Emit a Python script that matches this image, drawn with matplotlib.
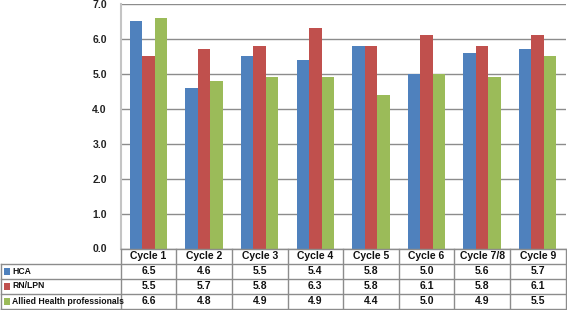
import matplotlib
matplotlib.use("Agg")
import matplotlib.pyplot as plt
import matplotlib.transforms as mtransforms
from matplotlib.lines import Line2D
from matplotlib.patches import Rectangle
import numpy as np

categories = ["Cycle 1", "Cycle 2", "Cycle 3", "Cycle 4", "Cycle 5", "Cycle 6", "Cycle 7/8", "Cycle 9"]
series_names = ["HCA", "RN/LPN", "Allied Health professionals"]
hca = [6.5, 4.6, 5.5, 5.4, 5.8, 5.0, 5.6, 5.7]
rn_lpn = [5.5, 5.7, 5.8, 6.3, 5.8, 6.1, 5.8, 6.1]
allied = [6.6, 4.8, 4.9, 4.9, 4.4, 5.0, 4.9, 5.5]
yticks = [0.0, 1.0, 2.0, 3.0, 4.0, 5.0, 6.0, 7.0]

colors = ["#4F81BD", "#C0504D", "#9BBB59"]
series = [hca, rn_lpn, allied]

W, H = 567, 310
fig = plt.figure(figsize=(W / 100, H / 100), dpi=100)
plt.rcParams["font.family"] = ["Liberation Sans", "DejaVu Sans"]

ax_left, ax_right = 120.7, 565.5
ax_top, ax_bot = 3.6, 248.5
ax = fig.add_axes([ax_left / W, 1 - ax_bot / H, (ax_right - ax_left) / W, (ax_bot - ax_top) / H])

x = np.arange(len(categories))
bw = 0.225
for i, (vals, c) in enumerate(zip(series, colors)):
    ax.bar(x + (i - 1) * bw, vals, width=bw, color=c, linewidth=0, zorder=3)

ax.set_xlim(-0.5, len(categories) - 0.5)
ax.set_ylim(0, 7)
ax.set_yticks(yticks)
ax.set_yticklabels([f"{v:.1f}" for v in yticks], fontsize=7.5, fontweight="bold", color="#222222")
ax.set_xticks([])
ax.yaxis.grid(True, color="#8c8c8c", linewidth=1.0, zorder=0)
ax.tick_params(axis="y", length=0, pad=10)
for s in ["top", "right", "bottom"]:
    ax.spines[s].set_visible(False)
ax.spines["left"].set_color("#c4c4c4")
ax.spines["left"].set_linewidth(1.5)

# Table
lc = "#8c8c8c"
trans = mtransforms.blended_transform_factory(ax.transData, fig.transFigure)
ftrans = fig.transFigure
row_lines = [249.0, 263.5, 278.5, 293.5, 308.5]
fy = lambda yp: 1 - yp / H
fx = lambda xp: xp / W

fig.add_artist(Line2D([fx(ax_left), fx(ax_right)], [fy(row_lines[0])] * 2, color=lc, lw=1.0, transform=ftrans))
for yp in row_lines[1:]:
    fig.add_artist(Line2D([fx(1.0), fx(ax_right)], [fy(yp)] * 2, color=lc, lw=1.0, transform=ftrans))
for k in range(len(categories) + 1):
    fig.add_artist(Line2D([k - 0.5, k - 0.5], [fy(row_lines[0]), fy(row_lines[-1])], color=lc, lw=1.0, transform=trans))
fig.add_artist(Line2D([fx(1.0), fx(1.0)], [fy(row_lines[1]), fy(row_lines[-1])], color=lc, lw=1.0, transform=ftrans))

tfs = 7.5
hy = (row_lines[0] + row_lines[1]) / 2
for k, cat in enumerate(categories):
    fig.text(k, fy(hy), cat, transform=trans, ha="center", va="center", fontsize=tfs, fontweight="bold", color="#111111")
for r, (name, vals, c) in enumerate(zip(series_names, series, colors)):
    cy = (row_lines[r + 1] + row_lines[r + 2]) / 2
    fig.add_artist(Rectangle((fx(4), fy(cy + 3.5)), fx(6), 7 / H, facecolor=c, edgecolor="none", transform=ftrans))
    fig.text(fx(12), fy(cy), name, transform=ftrans, ha="left", va="center", fontsize=6.2, fontweight="bold", color="#111111")
    for k, v in enumerate(vals):
        fig.text(k, fy(cy), f"{v:.1f}", transform=trans, ha="center", va="center", fontsize=tfs, fontweight="bold", color="#111111")

fig.savefig("out.png", dpi=100)
